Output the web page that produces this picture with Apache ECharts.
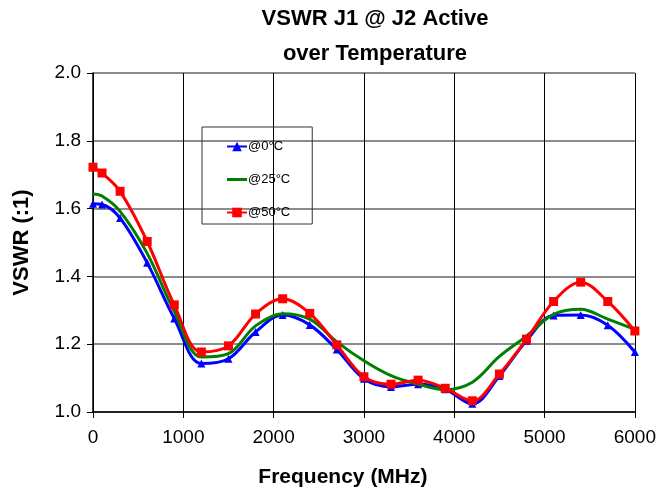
<!DOCTYPE html>
<html>
<head>
<meta charset="utf-8">
<script src="https://cdn.jsdelivr.net/npm/echarts@6/dist/echarts.min.js"></script>
<style>
html,body{margin:0;padding:0;background:#fff;}
#c{width:659px;height:493px;}
</style>
</head>
<body>
<div id="c"></div>
<script>
const freqs = [0, 100, 300, 600, 900, 1200, 1500, 1800, 2100, 2400, 2700, 3000, 3300, 3600, 3900, 4200, 4500, 4800, 5100, 5400, 5700, 6000];
const vswr0C  = [1.614, 1.612, 1.572, 1.44, 1.276, 1.143, 1.157, 1.236, 1.286, 1.257, 1.184, 1.098, 1.074, 1.082, 1.067, 1.024, 1.106, 1.21, 1.285, 1.286, 1.256, 1.177];
const vswr25C = [1.643, 1.637, 1.592, 1.468, 1.297, 1.162, 1.172, 1.254, 1.29, 1.274, 1.207, 1.151, 1.107, 1.082, 1.066, 1.088, 1.164, 1.224, 1.288, 1.303, 1.274, 1.244];
const vswr50C = [1.722, 1.705, 1.651, 1.503, 1.316, 1.177, 1.195, 1.289, 1.334, 1.291, 1.198, 1.104, 1.082, 1.094, 1.07, 1.033, 1.112, 1.215, 1.326, 1.383, 1.326, 1.239];
const seriesNames = ['@0°C', '@25°C', '@50°C'];

const pairs = arr => freqs.map((f, i) => [f, arr[i]]);
const chart = echarts.init(document.getElementById('c'), null, {renderer: 'canvas'});
const font = '"Liberation Sans", Arial, sans-serif';
chart.setOption({
  animation: false,
  backgroundColor: '#fff',
  title: {
    text: 'VSWR J1 @ J2 Active\nover Temperature',
    left: 375, top: 1, padding: 0, textAlign: 'center',
    textStyle: {fontFamily: font, fontSize: 22, fontWeight: 'bold', color: '#000', lineHeight: 35}
  },
  legend: {
    orient: 'vertical',
    left: 202, top: 127,
    width: 107,
    padding: [13, 22, 5, 24],
    itemGap: 20,
    itemWidth: 20, itemHeight: 12,
    borderColor: '#333', borderWidth: 1,
    textStyle: {fontFamily: font, fontSize: 13, color: '#000', padding: [0,0,0,-4]},
    data: [
      {name: seriesNames[0]},
      {name: seriesNames[1], icon: 'path://M0 0H20V3H0Z'},
      {name: seriesNames[2]}
    ]
  },
  grid: {left: 93, right: 23, top: 73, bottom: 80},
  xAxis: {
    type: 'value', min: 0, max: 6000, interval: 1000,
    name: 'Frequency (MHz)', nameLocation: 'middle', nameGap: 55,
    nameTextStyle: {fontFamily: font, fontSize: 21, fontWeight: 'bold', color: '#000', padding: [0, 42, 0, 0]},
    axisLine: {onZero: false, lineStyle: {color: '#000', width: 1.5}},
    axisTick: {show: true, length: 6, lineStyle: {color: '#000'}},
    axisLabel: {fontFamily: font, fontSize: 19, color: '#000', margin: 16, formatter: v => String(v)},
    splitLine: {show: true, lineStyle: {color: '#000', width: 1}}
  },
  yAxis: {
    type: 'value', min: 1.0, max: 2.0, interval: 0.2,
    name: 'VSWR (:1)', nameLocation: 'middle', nameGap: 60,
    nameTextStyle: {fontFamily: font, fontSize: 22, fontWeight: 'bold', color: '#000'},
    axisLine: {show: true, lineStyle: {color: '#000', width: 1.5}},
    axisTick: {show: true, length: 6, lineStyle: {color: '#000'}},
    axisLabel: {fontFamily: font, fontSize: 19, color: '#000', margin: 12, formatter: v => v.toFixed(1)},
    splitLine: {show: true, lineStyle: {color: '#666', width: 1.5}}
  },
  series: [
    {
      name: seriesNames[0], type: 'line', smooth: 0.35, data: pairs(vswr0C),
      symbol: 'triangle', symbolSize: 8, z: 3,
      lineStyle: {color: '#0000ff', width: 3}, itemStyle: {color: '#0000ff'}
    },
    {
      name: seriesNames[1], type: 'line', smooth: 0.35, data: pairs(vswr25C),
      symbol: 'none', z: 4,
      lineStyle: {color: '#008000', width: 3}, itemStyle: {color: '#008000'}
    },
    {
      name: seriesNames[2], type: 'line', smooth: 0.35, data: pairs(vswr50C),
      symbol: 'rect', symbolSize: 9, z: 5,
      lineStyle: {color: '#ff0000', width: 3}, itemStyle: {color: '#ff0000'}
    }
  ]
});
</script>
</body>
</html>
